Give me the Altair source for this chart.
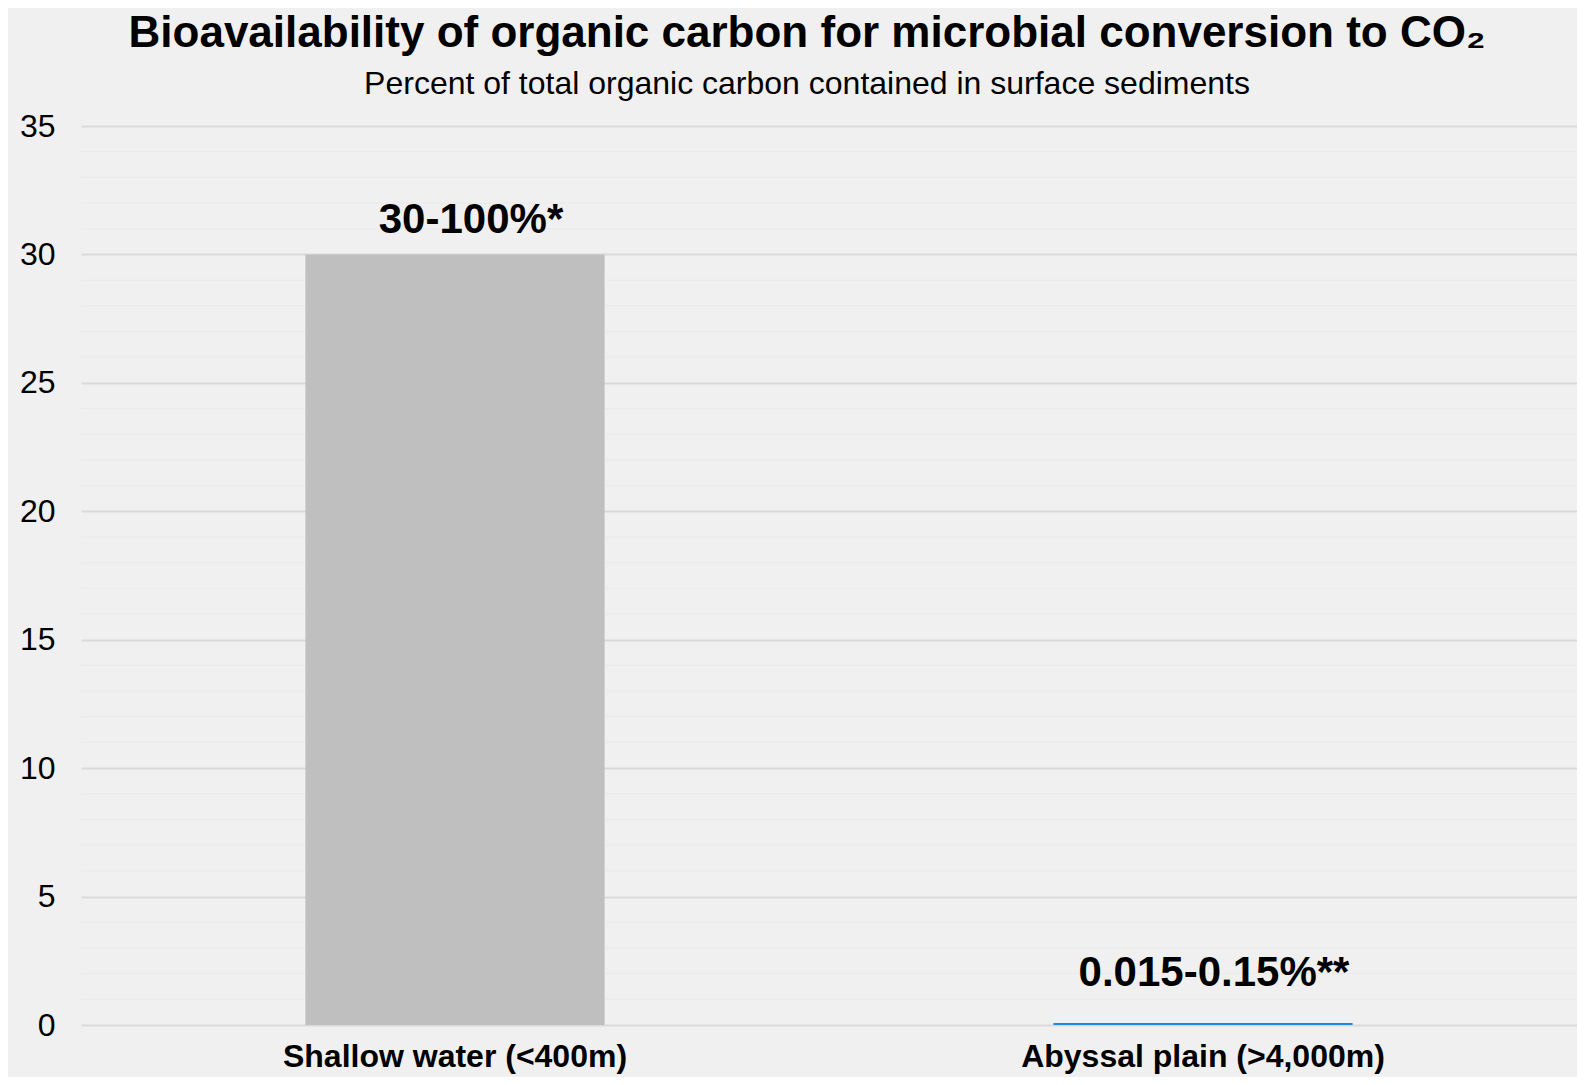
import altair as alt
import pandas as pd

categories = ["Shallow water (<400m)", "Abyssal plain (>4,000m)"]
values = [30, 0.08]
labels = ["30-100%*", "0.015-0.15%**"]
colors = ["#bfbfbf", "#1e88e5"]
major_ticks = [0, 5, 10, 15, 20, 25, 30, 35]
minor_ticks = [1, 2, 3, 4, 6, 7, 8, 9, 11, 12, 13, 14, 16, 17, 18, 19,
               21, 22, 23, 24, 26, 27, 28, 29, 31, 32, 33, 34]

FONT = "Liberation Sans"

df = pd.DataFrame({"category": categories, "value": values, "label": labels, "color": colors})
minor_df = pd.DataFrame({"v": minor_ticks})

y_scale = alt.Scale(domain=[0, 35], nice=False)
y_axis = alt.Axis(title=None, values=major_ticks, labelFont=FONT, labelFontSize=32,
                  labelColor="#000000", labelPadding=26, domain=False, ticks=False,
                  grid=True, gridColor="#d9d9d9", gridWidth=2)
x_scale = alt.Scale(domain=categories, paddingInner=0.6, paddingOuter=0.3)
x_axis = alt.Axis(title=None, labelAngle=0, labelFont=FONT, labelFontSize=32,
                  labelFontWeight="bold", labelColor="#000000", labelPadding=16,
                  labelLimit=0, domain=False, ticks=False, grid=False)

minor = alt.Chart(minor_df).mark_rule(color="#eaeaea", strokeWidth=1).encode(
    y=alt.Y("v:Q", scale=y_scale, axis=y_axis)
)

bars = alt.Chart(df).mark_bar().encode(
    x=alt.X("category:N", scale=x_scale, axis=x_axis, sort=categories),
    y=alt.Y("value:Q", scale=y_scale, axis=y_axis),
    color=alt.Color("color:N", scale=None),
)

text1 = alt.Chart(df).transform_filter(alt.datum.category == categories[0]).mark_text(
    font=FONT, fontSize=42, fontWeight="bold", color="#000000", baseline="alphabetic",
    dy=-21, dx=16
).encode(
    x=alt.X("category:N", scale=x_scale, axis=x_axis, sort=categories),
    y=alt.Y("value:Q", scale=y_scale, axis=y_axis),
    text="label:N",
)

text2 = alt.Chart(df).transform_filter(alt.datum.category == categories[1]).mark_text(
    font=FONT, fontSize=42, fontWeight="bold", color="#000000", baseline="alphabetic",
    dy=-37, dx=11
).encode(
    x=alt.X("category:N", scale=x_scale, axis=x_axis, sort=categories),
    y=alt.Y("value:Q", scale=y_scale, axis=y_axis),
    text="label:N",
)

chart = alt.layer(minor, bars, text1, text2).properties(
    width=1496,
    height=899,
    autosize=alt.AutoSizeParams(type="none"),
    padding={"left": 73, "top": 118, "right": 0, "bottom": 52},
    background="#f0f0f0",
    title=alt.TitleParams(
        text="Bioavailability of organic carbon for microbial conversion to CO₂",
        subtitle="Percent of total organic carbon contained in surface sediments",
        anchor="middle",
        dx=-22,
        font=FONT,
        fontSize=44,
        fontWeight="bold",
        color="#000000",
        subtitleFont=FONT,
        subtitleFontSize=32,
        subtitleColor="#000000",
        subtitlePadding=13,
        offset=10,
    ),
).configure_view(stroke=None)

chart.save("out.html", embed_options={"renderer": "svg", "actions": False})
